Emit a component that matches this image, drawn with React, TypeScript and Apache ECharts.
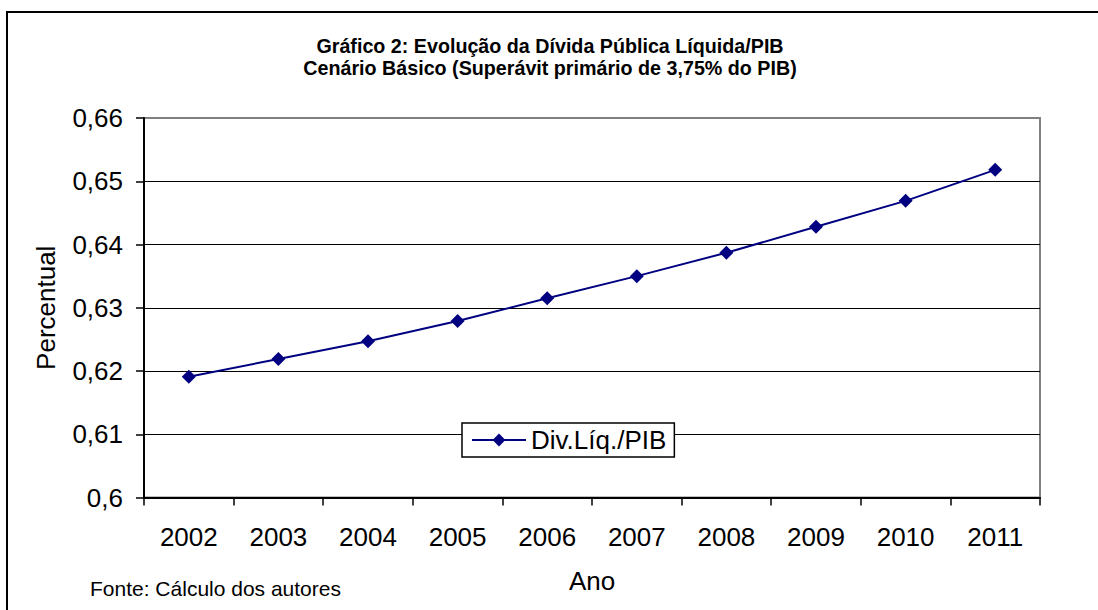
import React, { useEffect, useRef } from "react";
import * as echarts from "echarts";

const years = ["2002", "2003", "2004", "2005", "2006", "2007", "2008", "2009", "2010", "2011"];
const divLiqPib = [0.6191, 0.6219, 0.6247, 0.6279, 0.6315, 0.635, 0.6387, 0.6428, 0.6469, 0.6518];
const seriesName = "Div.Líq./PIB";
const titleLines = [
  "Gráfico 2: Evolução da Dívida Pública Líquida/PIB",
  "Cenário Básico (Superávit primário de 3,75% do PIB)",
];
const yAxisName = "Percentual";
const xAxisName = "Ano";
const sourceNote = "Fonte: Cálculo dos autores";
const yMin = 0.6;
const yMax = 0.66;
const yInterval = 0.01;

const FONT = "'Liberation Sans', Arial, sans-serif";

export default function App() {
  const ref = useRef<HTMLDivElement>(null);
  useEffect(() => {
    if (!ref.current) return;
    const chart = echarts.init(ref.current, null, { renderer: "svg" });
    chart.setOption({
      animation: false,
      backgroundColor: "#ffffff",
      textStyle: { fontFamily: FONT },
      title: {
        text: titleLines.join("\n"),
        left: 545,
        textAlign: "center",
        top: 30,
        textStyle: {
          fontFamily: FONT,
          fontSize: 19.7,
          fontWeight: "bold",
          color: "#000",
          lineHeight: 22,
        },
      },
      grid: {
        left: 144,
        right: 58,
        top: 118,
        bottom: 112.5,
        show: true,
        borderColor: "#808080",
        borderWidth: 2,
        backgroundColor: "#ffffff",
      },
      legend: {
        show: true,
        left: 462,
        top: 423,
        orient: "horizontal",
        backgroundColor: "#ffffff",
        borderColor: "#000000",
        borderWidth: 1.5,
        borderRadius: 0,
        padding: [3, 8, 3, 9],
        itemWidth: 54,
        itemHeight: 16,
        itemGap: 5,
        textStyle: { fontFamily: FONT, fontSize: 26, color: "#000", lineHeight: 28, padding: [0, 0, 0, 0] },
        data: [seriesName],
      },
      xAxis: {
        type: "category",
        data: years,
        boundaryGap: true,
        name: xAxisName,
        nameLocation: "middle",
        nameGap: 70,
        nameTextStyle: { fontFamily: FONT, fontSize: 26, color: "#000" },
        axisLine: { show: true, lineStyle: { color: "#000", width: 2 } },
        axisTick: { show: true, length: 8, alignWithLabel: false, lineStyle: { color: "#000", width: 1.5 } },
        axisLabel: { fontFamily: FONT, fontSize: 26, color: "#000", margin: 26 },
        splitLine: { show: false },
      },
      yAxis: {
        type: "value",
        min: yMin,
        max: yMax,
        interval: yInterval,
        name: yAxisName,
        nameLocation: "middle",
        nameRotate: 90,
        nameGap: 85,
        nameTextStyle: { fontFamily: FONT, fontSize: 26, color: "#000" },
        axisLine: { show: true, lineStyle: { color: "#000", width: 2 } },
        axisTick: { show: true, length: 8, lineStyle: { color: "#000", width: 1.5 } },
        axisLabel: {
          fontFamily: FONT,
          fontSize: 26,
          color: "#000",
          margin: 21,
          formatter: (v: number) => String(Number(v.toFixed(2))).replace(".", ","),
        },
        splitLine: { show: true, showMaxLine: false, showMinLine: false, lineStyle: { color: "#000", width: 1.2 } },
      },
      graphic: [
        {
          type: "rect",
          shape: { x: 7, y: 12, width: 1110, height: 620 },
          style: { fill: "none", stroke: "#000", lineWidth: 2 },
          silent: true,
          z: 100,
        },
        {
          type: "text",
          left: 90,
          top: 578,
          style: { text: sourceNote, font: `21px ${FONT}`, fill: "#000" },
          silent: true,
        },
      ],
      series: [
        {
          name: seriesName,
          type: "line",
          data: divLiqPib,
          symbol: "diamond",
          symbolSize: 14,
          lineStyle: { color: "#000080", width: 2 },
          itemStyle: { color: "#000080" },
        },
      ],
    });
    return () => chart.dispose();
  }, []);
  return (
    <div
      ref={ref}
      style={{ position: "absolute", left: 0, top: 0, width: 1098, height: 610 }}
    />
  );
}
